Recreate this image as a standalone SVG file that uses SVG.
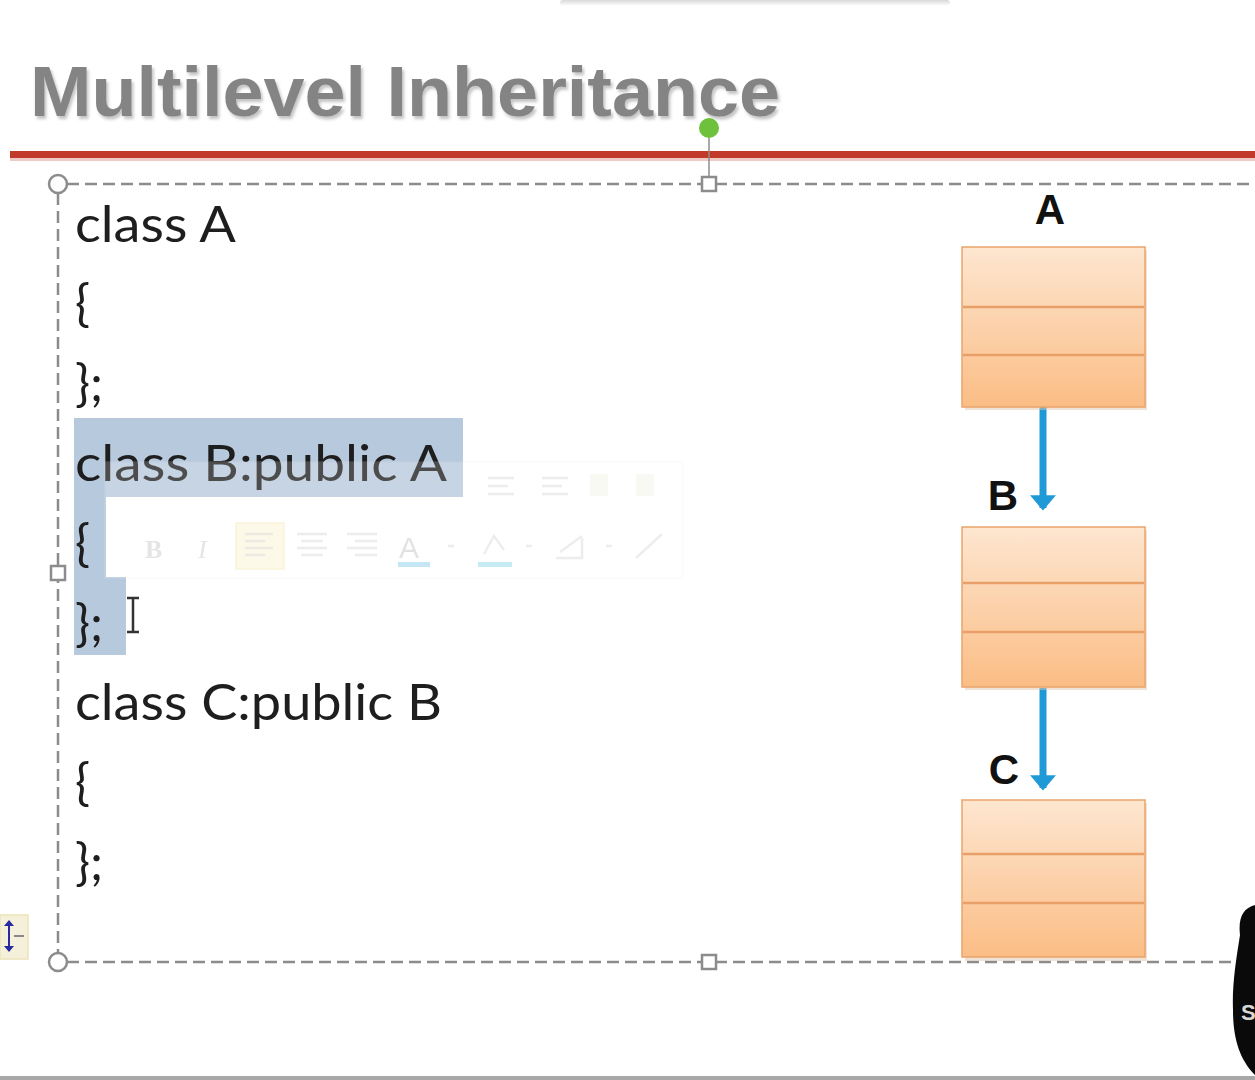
<svg xmlns="http://www.w3.org/2000/svg" width="1255" height="1080" viewBox="0 0 1255 1080">
<style>
.code{font-family:Lato,"Liberation Sans",sans-serif;font-size:50px;fill:#1e1e1e}
.lbl{font-family:"Liberation Sans",Arial,sans-serif;font-weight:bold;font-size:42px;fill:#111}
.frame{fill:none;stroke:#8c8c8c;stroke-width:2.5;stroke-dasharray:12 6}
.box{fill:url(#boxg);stroke:#eaa46a;stroke-width:1.5}
.div{stroke:#e8a068;stroke-width:2.5}
.conn{stroke:#1f9ad6;stroke-width:7;fill:none}
.tb{fill:none;stroke:#c8c8c8;stroke-width:2.5;opacity:.55}
.handle{fill:#fff;stroke:#8c8c8c;stroke-width:2.5}
</style>
<defs>
<linearGradient id="boxg" x1="0" y1="0" x2="0" y2="1">
<stop offset="0" stop-color="#fde6d0"/>
<stop offset="1" stop-color="#fbbd85"/>
</linearGradient>
<linearGradient id="topsh" x1="0" y1="0" x2="0" y2="1">
<stop offset="0" stop-color="#d8d8d8"/>
<stop offset="1" stop-color="#ffffff"/>
</linearGradient>
<filter id="tshadow" x="-5%" y="-20%" width="110%" height="140%">
<feDropShadow dx="2" dy="3" stdDeviation="1.5" flood-color="#bdbdbd" flood-opacity="0.9"/>
</filter>
<marker id="arr" viewBox="0 0 6 10" refX="5" refY="5" markerWidth="2.2" markerHeight="3.7" orient="auto" markerUnits="strokeWidth" preserveAspectRatio="none">
<path d="M0,0 L6,5 L0,10 z" fill="#1f9ad6"/>
</marker>
</defs>
<rect width="1255" height="1080" fill="#ffffff"/>
<rect x="560" y="0" width="390" height="6" rx="3" fill="url(#topsh)"/>
<rect x="0" y="1076" width="1255" height="4" fill="#a8a8a8"/>

<g id="title">
<text x="30" y="116" font-family="Liberation Sans, Arial, sans-serif" font-weight="bold" font-size="70" fill="#848484" textLength="750" lengthAdjust="spacingAndGlyphs" filter="url(#tshadow)">Multilevel Inheritance</text>
<rect x="10" y="151" width="1245" height="7" fill="#c0392b"/>
<rect x="10" y="158" width="1245" height="3" fill="#efc9c4"/>
</g>

<g id="selection-frame">
<line x1="709" y1="138" x2="709" y2="178" stroke="#8c8c8c" stroke-width="1.5"/>
<circle cx="709" cy="128" r="10" fill="#6dc13c"/>
<path class="frame" d="M67,184 H1255 M58,193 V953 M67,962 H1255"/>
<circle class="handle" cx="58" cy="184" r="9"/>
<circle class="handle" cx="58" cy="962" r="9"/>
<rect class="handle" x="702" y="177" width="14" height="14"/>
<rect class="handle" x="702" y="955" width="14" height="14"/>
<rect class="handle" x="51" y="566" width="14" height="14"/>
<rect x="0" y="915" width="28" height="44" fill="#f4f0da" stroke="#ece4b8" stroke-width="1.5"/>
<path d="M4,926 l5,-6 l5,6 z M4,946 l5,6 l5,-6 z" fill="#2a2aa0"/>
<line x1="9" y1="926" x2="9" y2="946" stroke="#2a2aa0" stroke-width="2"/>
<line x1="14" y1="936" x2="24" y2="936" stroke="#888" stroke-width="2"/>
</g>

<g id="code">
<rect x="74" y="418" width="389" height="79" fill="#b7c9dd"/>
<rect x="74" y="497" width="32" height="80" fill="#b7c9dd"/>
<rect x="74" y="577" width="52" height="78" fill="#b7c9dd"/>
<text class="code" x="75" y="242" textLength="161" lengthAdjust="spacingAndGlyphs">class A</text>
<text class="code" x="75" y="321">{</text>
<text class="code" x="75" y="401">};</text>
<text class="code" x="75" y="481" fill="#22324a" textLength="372" lengthAdjust="spacingAndGlyphs">class B:public A</text>
<text class="code" x="75" y="561">{</text>
<text class="code" x="75" y="641">};</text>
<text class="code" x="75" y="720" textLength="367" lengthAdjust="spacingAndGlyphs">class C:public B</text>
<text class="code" x="75" y="800">{</text>
<text class="code" x="75" y="880">};</text>
<path d="M127,598 h12 M133,598 v34 M127,632 h12" stroke="#333" stroke-width="2.5" fill="none"/>
</g>

<g id="mini-toolbar" opacity="0.6">
<rect x="105" y="462" width="578" height="116" fill="#ffffff" opacity="0.35" stroke="#ececec" stroke-width="1.5"/>
<rect x="236" y="523" width="48" height="46" fill="#fdf6dc" stroke="#f6ecc4" stroke-width="1.5"/>
<text x="145" y="558" font-family="Liberation Serif, serif" font-weight="bold" font-size="26" fill="#d4d4d4">B</text>
<text x="198" y="558" font-family="Liberation Serif, serif" font-style="italic" font-size="26" fill="#d4d4d4">I</text>
<path class="tb" d="M245,534 h28 M245,541 h20 M245,548 h28 M245,555 h20 M297,534 h30 M301,541 h22 M297,548 h30 M301,555 h22 M347,534 h30 M355,541 h22 M347,548 h30 M355,555 h22"/>
<text x="399" y="558" font-family="Liberation Sans, sans-serif" font-size="30" fill="#d0d0d0">A</text>
<rect x="398" y="562" width="32" height="5" fill="#9fd6ee"/>
<rect x="478" y="562" width="34" height="5" fill="#9fe0f0"/>
<path class="tb" d="M484,554 l10,-18 l10,14 M556,558 h26 v-20 M560,552 l22,-16 M636,558 l26,-24"/>
<path class="tb" d="M448,546 h6 M526,546 h6 M606,546 h6"/>
<path class="tb" d="M488,478 h26 M488,486 h20 M488,494 h26 M542,478 h26 M542,486 h20 M542,494 h26"/>
<rect x="590" y="474" width="18" height="22" fill="#eeeede" opacity="0.6"/>
<rect x="636" y="474" width="18" height="22" fill="#eeeede" opacity="0.6"/>
</g>

<g id="connectors">
<line class="conn" x1="1043" y1="404" x2="1043" y2="508" marker-end="url(#arr)"/>
<line class="conn" x1="1043" y1="688" x2="1043" y2="788" marker-end="url(#arr)"/>
</g>

<g id="node-A">
<text class="lbl" x="1050" y="224" text-anchor="middle">A</text>
<rect x="965" y="250" width="182" height="160" fill="#e0c8b0" opacity="0.5"/>
<rect class="box" x="962" y="247" width="183" height="160"/>
<line class="div" x1="963" y1="307" x2="1144" y2="307"/>
<line class="div" x1="963" y1="355" x2="1144" y2="355"/>
</g>

<g id="node-B">
<text class="lbl" x="1003" y="510" text-anchor="middle">B</text>
<rect x="965" y="530" width="182" height="160" fill="#e0c8b0" opacity="0.5"/>
<rect class="box" x="962" y="527" width="183" height="160"/>
<line class="div" x1="963" y1="583" x2="1144" y2="583"/>
<line class="div" x1="963" y1="632" x2="1144" y2="632"/>
</g>

<g id="node-C">
<text class="lbl" x="1004" y="784" text-anchor="middle">C</text>
<rect x="965" y="803" width="182" height="158" fill="#e0c8b0" opacity="0.5"/>
<rect class="box" x="962" y="800" width="183" height="157"/>
<line class="div" x1="963" y1="854" x2="1144" y2="854"/>
<line class="div" x1="963" y1="903" x2="1144" y2="903"/>
</g>

<g id="corner-figure">
<path d="M1255,905 C1243,908 1238,918 1240,935 C1236,960 1232,985 1233,1010 C1233,1035 1238,1058 1255,1075 Z" fill="#0a0a0a"/>
<text x="1241" y="1020" font-family="Liberation Sans, sans-serif" font-weight="bold" font-size="22" fill="#d8d8d8">S</text>
</g>
</svg>
